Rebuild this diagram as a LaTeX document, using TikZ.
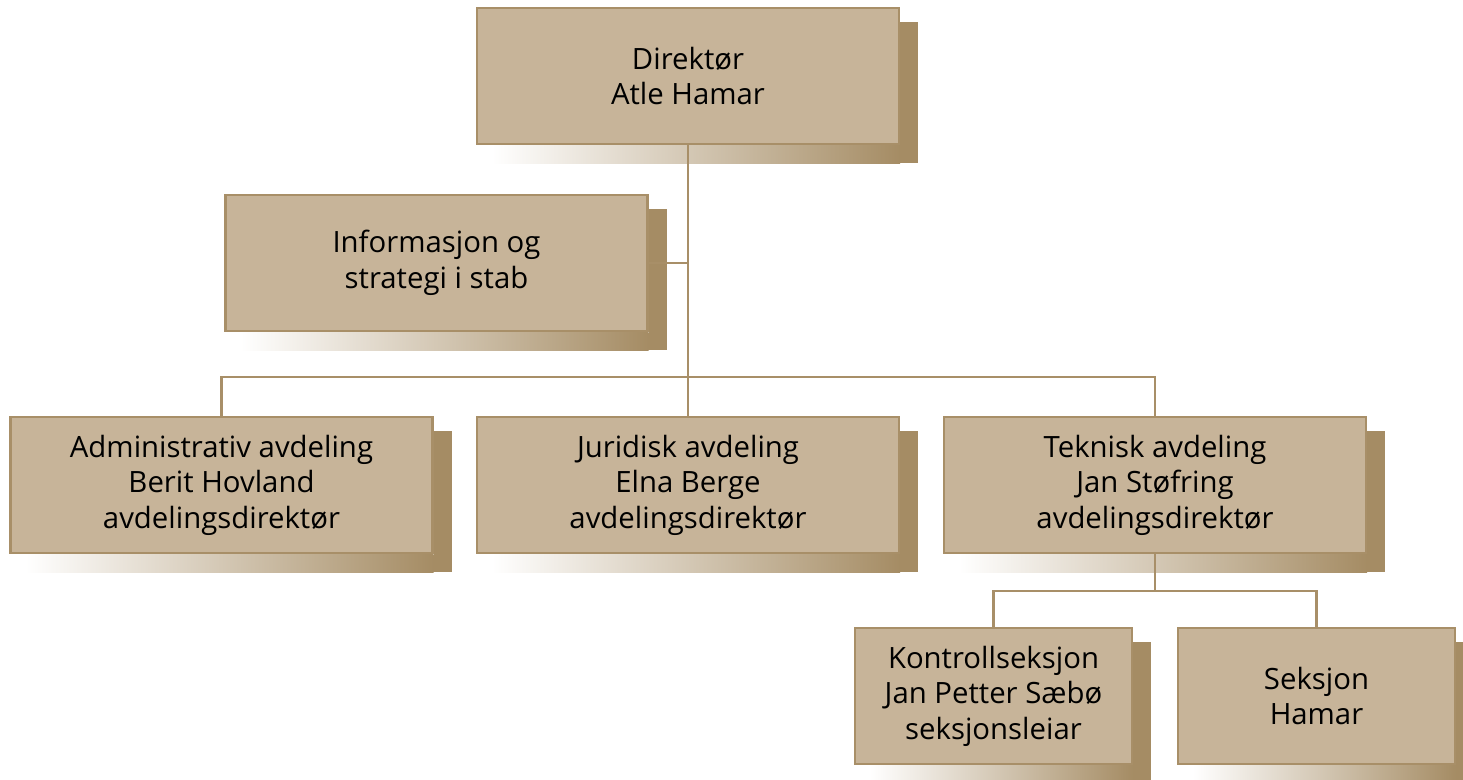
\documentclass[tikz,border=0pt]{standalone}
\usepackage{fontspec}
\setmainfont{Open Sans}
\usetikzlibrary{calc,backgrounds}
\definecolor{boxfill}{HTML}{C7B499}
\definecolor{boxline}{HTML}{A88F68}
\definecolor{shadowdark}{HTML}{A58C64}
\tikzset{
  orgbox/.style={draw=boxline, line width=1.8pt, fill=boxfill, rectangle,
    minimum width=316.5pt, minimum height=102pt, inner sep=0pt, align=center,
    font=\fontsize{22}{26.6}\selectfont},
  smallbox/.style={orgbox, minimum width=207.75pt},
  conn/.style={draw=boxline, line width=1.8pt},
}
\newcommand{\dropshadow}[1]{%
  \fill[shadowdark] ($(#1.north east)+(0,15)$) rectangle ($(#1.south east)+(18,18)$);
  \shade[left color=white, right color=shadowdark] ($(#1.south west)+(16,0)$) rectangle ($(#1.south east)+(0,18)$);
}
\begin{document}
\begin{tikzpicture}[x=0.75pt,y=-0.75pt]
\useasboundingbox (0,0) rectangle (1463,779);
\node[orgbox] (dir) at (688,76) {Direktør\\Atle Hamar};
\node[orgbox] (info) at (436.5,263) {Informasjon og\\strategi i stab};
\node[orgbox] (adm) at (221.5,485) {Administrativ avdeling\\Berit Hovland\\avdelingsdirektør};
\node[orgbox] (jur) at (688,485) {Juridisk avdeling\\Elna Berge\\avdelingsdirektør};
\node[orgbox] (tek) at (1155,485) {Teknisk avdeling\\Jan Støfring\\avdelingsdirektør};
\node[smallbox] (kon) at (993.5,696) {Kontrollseksjon\\Jan Petter Sæbø\\seksjonsleiar};
\node[smallbox] (sek) at (1316.5,696) {Seksjon\\Hamar};
\begin{scope}[on background layer]
\dropshadow{dir}
\dropshadow{info}
\dropshadow{adm}
\dropshadow{jur}
\dropshadow{tek}
\dropshadow{kon}
\dropshadow{sek}
\end{scope}
\coordinate (bus1) at (dir.south |- 0,377);
\coordinate (bus2) at (tek.south |- 0,591);
\draw[conn] (dir.south) -- (jur.north);
\draw[conn] (info.east) -- (dir.south |- info.east);
\draw[conn] (adm.north) |- (bus1) -| (tek.north);
\draw[conn] (tek.south) -- (bus2);
\draw[conn] (kon.north) |- (bus2) -| (sek.north);
\end{tikzpicture}
\end{document}
